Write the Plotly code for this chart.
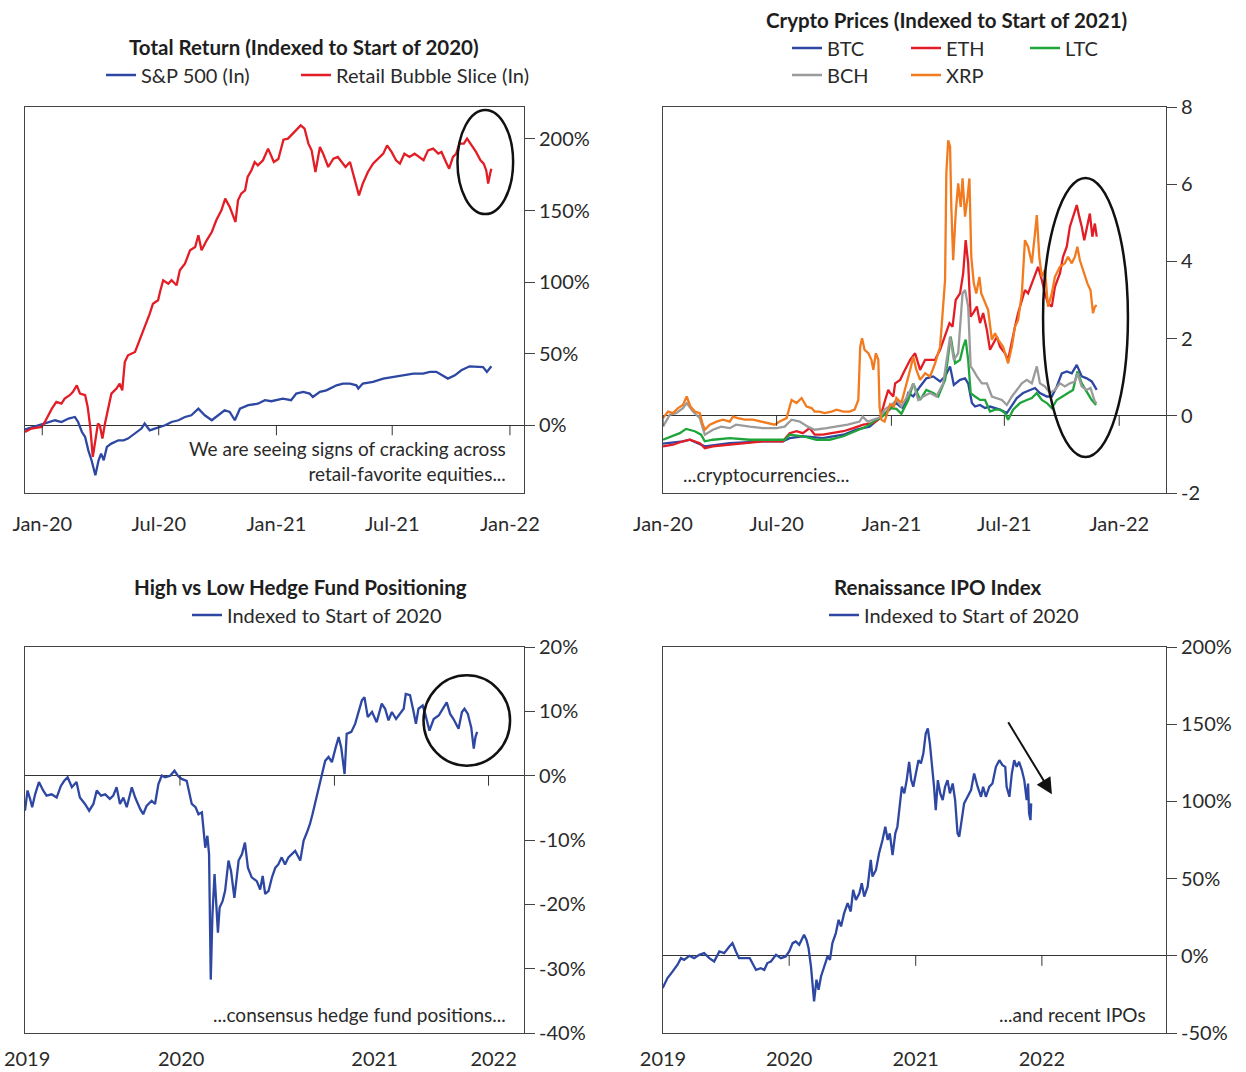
import plotly.graph_objects as go
import pandas as pd

# ---------------- Panel 1: Total Return (days since 2020-01-01, % return) -------------
sp_days = [-27, -17, -6, 4, 20, 30, 41, 51, 56, 62, 67, 72, 77, 83, 88, 92, 96, 101, 108, 119, 127,
           134, 145, 155, 160, 168, 176, 184, 192, 202, 213, 223, 233, 244, 254, 265, 275, 285, 293,
           301, 309, 322, 337, 348, 358, 366, 376, 389, 397, 408, 418, 423, 434, 444, 460, 470, 481,
           491, 494, 501, 517, 533, 548, 564, 580, 595, 606, 616, 626, 634, 645, 655, 668, 678, 689,
           695, 702]
sp_vals = [-3, -1.6, 0, 1.6, 3.5, 2.3, 4.7, 5.8, 2.3, -4.7, -8.1, -17.5, -24.4, -34.9, -24.4, -19.8,
           -24.4, -15.1, -12.8, -10.5, -10.5, -9.3, -5.8, -2.3, 1.2, -3.5, -2.3, -1.2, 0, 2.3, 3.5, 5.8,
           7, 11.6, 7, 3.5, 7, 10.5, 9.3, 3.5, 11.6, 14, 15.1, 17.5, 16.8, 17.5, 18.6, 17.5, 22.1, 23.3,
           22.1, 19.8, 23.3, 24.4, 27.9, 29.1, 29.1, 27.9, 25.6, 29.1, 30.3, 32.6, 33.8, 34.9, 36.1,
           36.1, 37.3, 37.3, 34.9, 32.6, 34.9, 38.4, 41.2, 41.2, 40.7, 37.3, 41.2]

rb_days = [-27, -17, -1, 4, 15, 22, 30, 35, 43, 48, 54, 59, 67, 71, 75, 79, 83, 87, 90, 94, 98, 102,
           108, 116, 121, 125, 129, 134, 145, 150, 158, 163, 168, 173, 181, 184, 189, 197, 202, 210,
           215, 223, 231, 239, 244, 249, 257, 265, 272, 280, 286, 293, 302, 306, 311, 317, 321, 327,
           332, 337, 345, 353, 362, 369, 377, 384, 392, 397, 404, 410, 416, 421, 427, 434, 439, 447,
           455, 462, 468, 474, 481, 486, 491, 495, 501, 509, 517, 525, 533, 539, 546, 553, 559, 566,
           574, 582, 590, 596, 603, 611, 619, 624, 631, 636, 642, 647, 652, 659, 664, 671, 678, 685,
           690, 694, 697, 700, 702]
rb_vals = [-4.7, -2.3, -1.2, 2.3, 11.6, 16.3, 15.1, 18.6, 21, 23.3, 27.9, 22.1, 21, 12.8, -1.2, -22.1,
           -10.5, 1.2, 0, -9.3, 1.2, 10.5, 22.1, 25.6, 29.1, 24.4, 44.2, 48.9, 51.2, 57, 66.3, 71, 78,
           84.9, 87.3, 93.1, 101.3, 98.9, 101.3, 97.8, 108.2, 112.9, 122.2, 124.5, 132.7, 122.2, 129.2,
           135, 143.2, 150.1, 158.3, 152.5, 142, 157.1, 161.8, 164.1, 173.4, 178.1, 183.9, 181.6,
           185.1, 193.2, 183.9, 186, 199.5, 200.2, 203.7, 206, 209.5, 207.2, 196.7, 192, 176.9, 194.4,
           189.7, 180.4, 186.2, 187.4, 183.9, 180.4, 183.9, 175.7, 166.4, 160.6, 168.8, 176.9, 182.7,
           186.2, 189.7, 195.5, 190.9, 185.1, 182.7, 189.7, 187.4, 189.7, 187.4, 185.1, 192, 193.2,
           189.7, 190.9, 183.9, 179.2, 187.4, 189.7, 196.7, 196.7, 200.2, 195.5, 190.9, 185.1, 182.7,
           178, 168.8, 175.7, 179.2]

# ---------------- Panel 2: Crypto prices (days since 2020-01-01, indexed to start of 2021) ----
btc_days = [0, 32, 43, 67, 107, 160, 192, 203, 224, 256, 289, 310, 331, 347, 363, 369, 374, 380, 385,
            393, 401, 412, 422, 433, 444, 452, 460, 466, 476, 484, 489, 495, 500, 508, 516, 524, 532,
            540, 551, 556, 567, 577, 588, 596, 604, 615, 623, 631, 639, 647, 655, 663, 671, 679, 687, 695]
btc_vals = [-0.72, -0.66, -0.62, -0.79, -0.71, -0.66, -0.66, -0.58, -0.53, -0.58, -0.49, -0.36, -0.28,
            -0.06, 0.16, 0.28, 0.33, 0.24, 0.2, 0.59, 0.5, 0.76, 0.97, 1.02, 0.89, 1.02, 1.28, 0.8, 0.93,
            0.97, 0.84, 0.33, 0.24, 0.28, 0.2, 0.24, 0.2, 0.16, 0.07, 0.2, 0.46, 0.59, 0.67, 0.72, 0.59,
            0.5, 0.5, 0.76, 1.1, 1.15, 1.1, 1.32, 1.02, 0.97, 0.89, 0.67]

eth_days = [0, 16, 32, 43, 59, 67, 80, 107, 134, 160, 192, 203, 214, 224, 235, 243, 256, 272, 289, 305,
            321, 337, 348, 356, 361, 364, 369, 372, 380, 385, 388, 393, 396, 404, 412, 420, 428, 436,
            444, 452, 459, 464, 469, 476, 481, 485, 489, 493, 497, 503, 508, 513, 519, 524, 529, 535,
            540, 548, 553, 559, 564, 569, 575, 580, 585, 591, 596, 601, 607, 612, 617, 623, 628, 636,
            641, 647, 652, 657, 663, 667, 671, 675, 679, 684, 688, 692, 695]
eth_vals = [-0.79, -0.75, -0.66, -0.62, -0.71, -0.84, -0.79, -0.75, -0.71, -0.66, -0.66, -0.45, -0.4,
            -0.45, -0.32, -0.49, -0.49, -0.45, -0.4, -0.32, -0.23, -0.19, -0.06, 0.41, 0.67, 0.59, 0.5,
            0.84, 0.93, 1.1, 1.19, 1.36, 1.45, 1.62, 1.19, 1.45, 1.45, 1.45, 1.71, 2.05, 2.4, 2.31, 3.0,
            3.17, 3.69, 4.55, 3.95, 2.57, 2.66, 2.83, 2.4, 2.66, 2.22, 1.71, 1.88, 2.05, 1.79, 1.62,
            1.45, 1.97, 2.31, 2.66, 3.0, 3.26, 3.17, 3.43, 3.6, 3.86, 3.52, 3.17, 2.91, 2.83, 3.34,
            3.69, 4.12, 4.38, 4.9, 5.16, 5.46, 5.16, 4.9, 4.55, 4.9, 5.24, 4.64, 4.98, 4.64]

ltc_days = [0, 16, 27, 37, 51, 61, 67, 80, 107, 139, 171, 195, 203, 224, 246, 267, 289, 307, 326, 342,
            348, 355, 363, 374, 382, 393, 401, 412, 422, 433, 441, 452, 461, 468, 476, 481, 485, 489,
            493, 500, 508, 516, 524, 532, 540, 548, 553, 561, 572, 583, 591, 599, 607, 615, 623, 631,
            641, 649, 657, 664, 671, 679, 687, 694]
ltc_vals = [-0.62, -0.53, -0.45, -0.34, -0.4, -0.49, -0.66, -0.62, -0.58, -0.62, -0.62, -0.62, -0.49,
            -0.53, -0.62, -0.62, -0.53, -0.4, -0.28, -0.1, -0.06, 0.03, 0.2, 0.18, 0.05, 0.41, 0.84,
            0.41, 0.67, 0.59, 0.5, 0.93, 2.05, 1.36, 1.45, 1.79, 1.97, 1.45, 0.59, 0.5, 0.41, 0.41,
            0.11, 0.16, 0.16, 0.07, -0.1, 0.16, 0.33, 0.41, 0.46, 0.59, 0.41, 0.33, 0.2, 0.41, 0.5,
            0.59, 0.67, 1.15, 0.84, 0.63, 0.41, 0.28]

bch_days = [0, 11, 21, 32, 38, 48, 59, 67, 80, 93, 107, 117, 139, 160, 182, 195, 206, 219, 232, 243,
            262, 278, 296, 315, 320, 328, 342, 348, 355, 366, 374, 382, 393, 401, 409, 417, 428, 438,
            449, 460, 466, 473, 480, 484, 489, 493, 497, 503, 511, 519, 527, 535, 543, 551, 559, 567,
            575, 583, 591, 599, 604, 612, 620, 628, 636, 644, 652, 660, 664, 671, 679, 685, 692, 695]
bch_vals = [-0.28, 0.03, 0.07, 0.2, 0.33, 0.11, -0.06, -0.49, -0.36, -0.28, -0.32, -0.23, -0.28, -0.32,
            -0.32, -0.28, -0.1, -0.15, -0.28, -0.36, -0.32, -0.28, -0.23, -0.15, -0.02, -0.15, -0.06,
            -0.04, 0.16, 0.28, 0.41, 0.24, 0.55, 0.84, 0.41, 0.5, 0.59, 0.5, 0.84, 2.05, 1.45, 1.62,
            3.17, 3.26, 2.83, 1.28, 1.19, 1.02, 0.84, 0.84, 0.5, 0.46, 0.41, 0.28, 0.5, 0.67, 0.84,
            0.93, 0.84, 1.28, 0.84, 0.76, 0.59, 0.67, 0.84, 0.76, 0.84, 0.89, 1.1, 0.76, 0.67, 0.72,
            0.37, 0.33]

xrp_days = [0, 8, 16, 24, 32, 38, 44, 51, 59, 63, 67, 75, 86, 96, 107, 112, 120, 131, 144, 158, 171,
            179, 187, 198, 206, 214, 222, 230, 238, 243, 251, 259, 270, 278, 289, 299, 307, 313, 316,
            319, 323, 329, 334, 337, 341, 345, 347, 350, 355, 360, 364, 370, 374, 382, 388, 396, 401,
            406, 412, 420, 428, 436, 444, 449, 452, 454, 457, 460, 462, 465, 469, 473, 477, 480, 484,
            488, 491, 494, 498, 502, 507, 510, 516, 521, 527, 532, 537, 545, 553, 559, 564, 569, 575,
            580, 585, 591, 596, 599, 603, 607, 612, 617, 623, 628, 636, 644, 649, 655, 660, 664, 668,
            673, 680, 685, 689, 692, 695]
xrp_vals = [-0.06, 0.11, 0.07, 0.2, 0.28, 0.5, 0.24, 0.11, 0.07, -0.19, -0.36, -0.23, -0.15, -0.1,
            -0.15, -0.02, -0.06, -0.1, -0.1, -0.15, -0.19, -0.23, -0.15, -0.06, 0.41, 0.33, 0.46, 0.24,
            0.2, 0.11, 0.11, 0.07, 0.11, 0.16, 0.11, 0.11, 0.16, 0.41, 1.79, 2.01, 1.71, 1.62, 1.45,
            1.19, 1.62, 1.45, 0.24, -0.1, -0.15, 0.11, 0.3, 0.24, 0.46, 0.33, 0.67, 1.19, 1.53, 1.19,
            0.93, 1.1, 1.02, 1.36, 1.79, 2.83, 3.52, 6.28, 7.14, 6.97, 5.41, 4.03, 5.24, 6.02, 5.41,
            6.15, 5.16, 5.67, 6.15, 4.12, 3.43, 3.17, 3.6, 3.17, 2.91, 2.74, 1.97, 2.14, 1.97, 1.79,
            1.36, 1.79, 2.31, 2.48, 3.17, 4.55, 4.38, 3.95, 4.72, 5.2, 4.12, 3.6, 3.78, 2.83, 3.17,
            3.6, 3.86, 3.95, 4.12, 3.95, 4.12, 4.38, 4.03, 3.78, 3.43, 3.26, 2.66, 2.83, 2.87]

# ---------------- Panel 3: High vs Low hedge fund positioning (days since 2019-01-01, %) -------
hf_days = [-2, 4, 10, 15, 22, 31, 41, 49, 61, 73, 83, 91, 99, 109, 120, 128, 140, 150, 160, 168, 178,
           188, 199, 207, 215, 223, 231, 239, 251, 259, 271, 278, 286, 298, 306, 314, 322, 330, 342,
           352, 360, 369, 381, 387, 393, 402, 409, 417, 421, 425, 430, 434, 438, 442, 447, 451, 455,
           459, 466, 472, 480, 486, 494, 504, 512, 519, 526, 535, 547, 555, 561, 567, 575, 583, 591,
           598, 606, 614, 622, 630, 638, 650, 658, 666, 673, 679, 685, 693, 701, 709, 717, 725, 734,
           741, 747, 755, 760, 771, 780, 788, 796, 802, 810, 820, 831, 843, 851, 859, 867, 877, 887,
           895, 900, 910, 918, 924, 930, 940, 946, 956, 966, 978, 990, 997, 1005, 1013, 1025, 1033,
           1039, 1047, 1055, 1061, 1065, 1069]
hf_vals = [-5.45, -2.3, -3.6, -4.9, -2.9, -1.0, -2.3, -3.1, -2.9, -3.4, -1.6, -0.8, -0.26, -1.8, -1.0,
           -3.4, -4.4, -5.45, -4.4, -2.3, -3.1, -2.9, -3.6, -3.1, -1.8, -4.4, -3.4, -4.9, -1.8, -3.4,
           -5.2, -6.0, -4.7, -3.9, -4.4, -1.3, 0, -0.26, 0, 0.78, 0, -0.5, -0.8, -2.9, -4.4, -4.9,
           -6.0, -5.7, -8.05, -11.2, -9.35, -12.2, -31.7, -21.6, -15.3, -21.0, -24.4, -20.5, -19.5,
           -17.9, -13.2, -14.8, -19.0, -13.2, -12.2, -10.4, -14.3, -15.8, -16.4, -17.7, -15.6, -18.4,
           -17.9, -15.8, -14.3, -13.8, -12.7, -13.8, -12.7, -12.2, -11.7, -13.2, -10.1, -8.8, -7.5,
           -6.0, -4.4, -2.3, 0, 2.3, 2.9, 2.1, 4.4, 6.0, 4.4, 0.26, 6.5, 6.8, 8.05, 10.1, 11.7, 12.2,
           9.1, 9.9, 8.3, 11.2, 10.4, 8.6, 9.9, 8.8, 9.6, 10.4, 12.7, 12.5, 10.1, 8.05, 10.4, 10.9,
           9.6, 7.0, 8.8, 9.35, 10.65, 11.4, 9.6, 8.8, 7.3, 9.9, 10.4, 9.6, 7.5, 4.2, 6.0, 6.8]

# ---------------- Panel 4: Renaissance IPO index (days since 2019-01-01, %) -------------------
ipo_days = [-1, 13, 28, 42, 52, 61, 76, 90, 105, 119, 134, 148, 163, 177, 192, 201, 211, 220, 235, 251,
            261, 269, 283, 293, 302, 312, 327, 341, 355, 365, 375, 384, 394, 408, 415, 421, 428, 433,
            437, 444, 450, 457, 466, 476, 483, 490, 500, 508, 515, 524, 534, 543, 550, 558, 568, 575,
            582, 592, 601, 606, 616, 625, 635, 643, 650, 656, 664, 672, 678, 685, 691, 698, 705, 712,
            718, 724, 732, 739, 746, 753, 760, 766, 772, 778, 784, 789, 795, 802, 809, 816, 823, 830,
            838, 845, 852, 857, 865, 871, 881, 891, 900, 910, 920, 926, 934, 944, 953, 963, 973, 982,
            990, 994, 1002, 1009, 1016, 1023, 1030, 1038, 1045, 1048, 1052, 1056, 1059, 1063, 1065]
ipo_vals = [-20.9, -14.4, -10.1, -5.8, -1.5, -2.6, 0, -1.5, 0.6, 1.7, -1.5, -3.7, 2.8, 1.7, 6.0, 8.2,
            2.8, -1.5, -1.5, -1.5, -5.8, -9.1, -8.0, -9.1, -4.7, -3.7, 0.6, -1.5, -0.4, 2.8, 8.2, 9.3,
            7.1, 13.6, 10.3, 5.0, -6.9, -19.8, -29.5, -15.5, -22.0, -13.4, -6.9, -0.4, -2.6, 8.2, 14.7,
            23.3, 19.0, 27.6, 34.1, 28.7, 42.7, 36.2, 40.5, 47.0, 38.4, 44.8, 62.1, 51.3, 55.6, 66.4,
            75.0, 83.6, 75.0, 79.3, 65.3, 79.3, 83.6, 96.6, 109.5, 105.2, 113.8, 125.6, 113.8, 109.5,
            118.1, 126.7, 124.6, 131.0, 144.0, 147.2, 137.5, 124.6, 109.5, 94.4, 113.8, 105.2, 100.9,
            109.5, 113.8, 105.2, 111.6, 100.9, 79.3, 77.2, 90.1, 98.7, 103.0, 107.3, 118.1, 109.5,
            103.0, 109.5, 103.0, 109.5, 111.6, 122.4, 126.7, 123.5, 122.4, 109.5, 103.0, 118.1, 126.7,
            122.4, 125.6, 120.3, 113.8, 109.5, 100.9, 111.6, 92.2, 87.9, 98.7]

# ---------------- Axis ticks ----------------
p1_ticks = ["2020-01-01", "2020-07-01", "2021-01-01", "2021-07-01", "2022-01-01"]
p1_yticks = [0, 50, 100, 150, 200]
p2_yticks = [-2, 0, 2, 4, 6, 8]
p3_yticks = [-40, -30, -20, -10, 0, 10, 20]
p4_yticks = [-50, 0, 50, 100, 150, 200]
year_marks = ["2020-01-01", "2021-01-01", "2022-01-01"]
p3_label_pos = ["2019-01-04", "2020-01-04", "2021-04-06", "2022-01-13"]
p4_label_pos = ["2019-01-01", "2020-01-01", "2021-01-01", "2022-01-01"]
year_text = ["2019", "2020", "2021", "2022"]

BLUE = "#2d47a2"
RED = "#e31d25"
GREEN = "#1ea53a"
GRAY = "#9b9b9b"
ORANGE = "#f27b20"
TXT = "#2a2a2a"
FONT = "Lato, 'Open Sans', sans-serif"
LW = 2.3


def dates(base, days):
    return pd.Timestamp(base) + pd.to_timedelta(days, unit="D")


fig = go.Figure()

def line(xa, ya, base, d, v, color, name, legend):
    fig.add_trace(go.Scatter(x=dates(base, d), y=v, mode="lines", name=name,
                             line=dict(color=color, width=LW), xaxis=xa, yaxis=ya,
                             legend=legend, hoverinfo="x+y"))

line("x", "y", "2020-01-01", sp_days, sp_vals, BLUE, "S&P 500 (In)", "legend")
line("x", "y", "2020-01-01", rb_days, rb_vals, RED, "Retail Bubble Slice (In)", "legend6")

line("x2", "y2", "2020-01-01", btc_days, btc_vals, BLUE, "BTC", "legend2")
line("x2", "y2", "2020-01-01", eth_days, eth_vals, RED, "ETH", "legend2")
line("x2", "y2", "2020-01-01", ltc_days, ltc_vals, GREEN, "LTC", "legend2")
line("x2", "y2", "2020-01-01", bch_days, bch_vals, GRAY, "BCH", "legend3")
line("x2", "y2", "2020-01-01", xrp_days, xrp_vals, ORANGE, "XRP", "legend3")

line("x3", "y3", "2019-01-01", hf_days, hf_vals, BLUE, "Indexed to Start of 2020", "legend4")
line("x4", "y4", "2019-01-01", ipo_days, ipo_vals, BLUE, "Indexed to Start of 2020", "legend5")

W, H = 1246, 1072
left_dom = [25 / W, 524 / W]
right_dom = [663 / W, 1166 / W]
top_dom = [1 - 493 / H, 1 - 107 / H]
bot_dom = [1 - 1033 / H, 1 - 647 / H]

tickfont = dict(family=FONT, size=20, color=TXT)

def xaxis(dom, rng, anchor, tl, **kw):
    d = dict(domain=dom, range=rng, anchor=anchor, type="date", showgrid=False, zeroline=False,
             showline=True, mirror=True, linecolor="#444", linewidth=1, automargin=False,
             ticks="outside", ticklen=tl, tickcolor="rgba(0,0,0,0)", tickfont=tickfont)
    d.update(kw)
    return d

def yaxis(dom, rng, anchor, vals, suffix):
    return dict(domain=dom, range=rng, anchor=anchor, side="right", showgrid=False,
                zeroline=True, zerolinecolor="#333", zerolinewidth=1, automargin=False,
                showline=True, mirror=True, linecolor="#444", linewidth=1,
                ticks="outside", ticklen=10, tickcolor="#444", tickwidth=1,
                tickvals=vals, ticktext=[f"{v}{suffix}" for v in vals], tickfont=tickfont)

fig.update_layout(
    template="none",
    width=W, height=H, margin=dict(l=0, r=0, t=0, b=0, pad=0, autoexpand=False),
    paper_bgcolor="white", plot_bgcolor="white",
    font=dict(family=FONT, size=20, color=TXT),
    xaxis=xaxis(left_dom, ["2019-12-05", "2022-01-23"], "y", 13, tickvals=p1_ticks, tickformat="%b-%y"),
    yaxis=yaxis(top_dom, [-47.3, 222.3], "x", p1_yticks, "%"),
    xaxis2=xaxis(right_dom, ["2020-01-01", "2022-03-17"], "y2", 13, tickvals=p1_ticks, tickformat="%b-%y"),
    yaxis2=yaxis(top_dom, [-2, 8], "x2", p2_yticks, ""),
    xaxis3=xaxis(left_dom, ["2018-12-30", "2022-03-26"], "y3", 8, tickvals=p3_label_pos, ticktext=year_text),
    yaxis3=yaxis(bot_dom, [-40, 20], "x3", p3_yticks, "%"),
    xaxis4=xaxis(right_dom, ["2019-01-01", "2022-12-26"], "y4", 8, tickvals=p4_label_pos, ticktext=year_text),
    yaxis4=yaxis(bot_dom, [-50, 200], "x4", p4_yticks, "%"),
    showlegend=True,
)

legend_common = dict(orientation="h", yanchor="middle", xanchor="left", bgcolor="rgba(0,0,0,0)",
                     font=dict(family=FONT, size=20, color=TXT), itemwidth=30)
fig.update_layout(
    legend=dict(legend_common, x=101 / W, y=1 - 75 / H),
    legend6=dict(legend_common, x=296 / W, y=1 - 75 / H),
    legend2=dict(legend_common, x=787 / W, y=1 - 48 / H, entrywidth=74, entrywidthmode="pixels"),
    legend3=dict(legend_common, x=787 / W, y=1 - 75 / H, entrywidth=74, entrywidthmode="pixels"),
    legend4=dict(legend_common, x=187 / W, y=1 - 615 / H),
    legend5=dict(legend_common, x=824 / W, y=1 - 615 / H),
)

# titles
titles = [("Total Return (Indexed to Start of 2020)", 304, 47),
          ("Crypto Prices (Indexed to Start of 2021)", 946, 20),
          ("High vs Low Hedge Fund Positioning", 300, 587),
          ("Renaissance IPO Index", 937, 587)]
for t, px, py in titles:
    fig.add_annotation(text=f"<b>{t}</b>", xref="paper", yref="paper", x=px / W, y=1 - py / H,
                       xanchor="center", yanchor="middle", showarrow=False,
                       font=dict(family=FONT, size=20.5, color="#1e1e1e"))

# in-panel notes
notes = [("We are seeing signs of cracking across<br>retail-favorite equities...", "x", "y", 0.968, 0.082, "right"),
         ("...cryptocurrencies...", "x2", "y2", 0.036, 0.049, "left"),
         ("...consensus hedge fund positions...", "x3", "y3", 0.968, 0.049, "right"),
         ("...and recent IPOs", "x4", "y4", 0.964, 0.049, "right")]
for t, xa, ya, fx, fy, al in notes:
    fig.add_annotation(text=t, xref=f"{xa} domain", yref=f"{ya} domain", x=fx, y=fy,
                       xanchor=al, yanchor="middle", align=al, showarrow=False,
                       font=dict(family=FONT, size=19, color=TXT))

# tick marks hanging from the zero line
for xa, ya, marks in [("x", "y", p1_ticks), ("x2", "y2", p1_ticks),
                      ("x3", "y3", year_marks), ("x4", "y4", year_marks)]:
    for m in marks:
        fig.add_shape(type="line", xref=xa, yref=ya, x0=m, x1=m, ysizemode="pixel", yanchor=0,
                      y0=0, y1=-10, line=dict(color="#333", width=1))

# highlight ellipses
fig.add_shape(type="circle", xref="x", yref="y", x0="2021-10-11", x1="2022-01-06", y0=147.5, y1=220.2,
              line=dict(color="#111", width=2.5))
fig.add_shape(type="circle", xref="x2", yref="y2", x0="2021-09-01", x1="2022-01-15", y0=-1.07, y1=6.16,
              line=dict(color="#111", width=2.5))
fig.add_shape(type="circle", xref="x3", yref="y3", x0="2021-07-31", x1="2022-02-21", y0=1.56, y1=15.6,
              line=dict(color="#111", width=2.5))

# arrow in IPO panel
fig.add_annotation(xref="x4", yref="y4", axref="x4", ayref="y4", x="2022-01-30", y=104.7,
                   ax="2021-09-23", ay=152.2, text="", showarrow=True, arrowhead=2, arrowsize=1.6,
                   arrowwidth=2, arrowcolor="#111")

fig.write_html("out.html", config={"displayModeBar": False},
               post_script="document.body.style.margin='0px';")
